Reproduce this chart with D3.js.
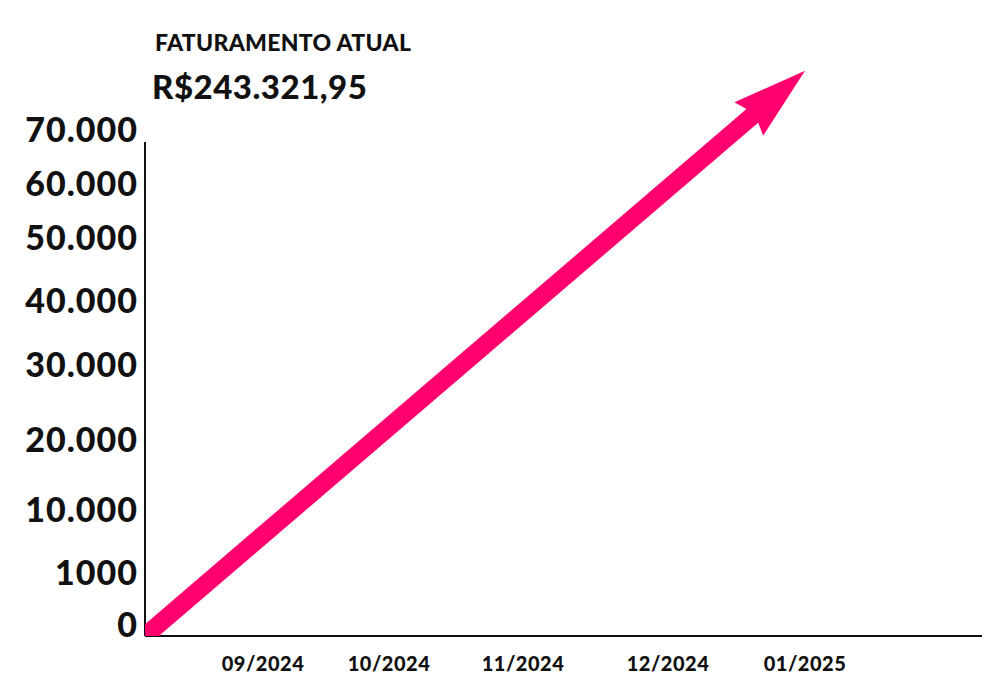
<!DOCTYPE html>
<html>
<head>
<meta charset="utf-8">
<title>Faturamento</title>
<style>
  body { margin: 0; background: #fff; }
  text { font-family: Lato, "Open Sans", sans-serif; font-weight: 900; fill: #111; }
</style>
</head>
<body>
<div id="chart"></div>
<script src="https://d3js.org/d3.v7.min.js"></script>
<script>
var width = 1000, height = 683;

// data
var months = ['', '09/2024', '10/2024', '11/2024', '12/2024', '01/2025', '', ''];
var yTicks = [0, 1000, 10000, 20000, 30000, 40000, 50000, 60000, 70000];
var yTickLabels = ['0', '1000', '10.000', '20.000', '30.000', '40.000', '50.000', '60.000', '70.000'];
var arrowMonths = ['', '01/2025'];
var arrowValues = [0, 83000];
var title = 'FATURAMENTO ATUAL';
var total = 'R$243.321,95';

var svg = d3.select('#chart').append('svg')
  .attr('width', width).attr('height', height);

// x: month positions are uneven in the original
var x = d3.scaleOrdinal()
  .domain(months.map(function(d, i){ return i; }))
  .range([145, 263, 389, 523, 668, 805, 930, 982]);

// y: piecewise, ticks were not evenly spaced
var y = d3.scaleLinear()
  .domain(yTicks)
  .range([636, 584, 521, 451, 376, 312, 249, 195, 141]);

var left = x(0), bottom = y(0);

// title
svg.append('text')
  .attr('x', 155).attr('y', 51)
  .attr('font-size', 23)
  .attr('letter-spacing', 0.3)
  .text(title);
svg.append('text')
  .attr('x', 152).attr('y', 99)
  .attr('font-size', 33)
  .attr('letter-spacing', 0.5)
  .text(total);

// axes lines
svg.append('line')
  .attr('x1', left).attr('x2', left)
  .attr('y1', 142).attr('y2', bottom)
  .attr('stroke', '#111').attr('stroke-width', 2);
svg.append('line')
  .attr('x1', left).attr('x2', x(months.length - 1))
  .attr('y1', bottom).attr('y2', bottom)
  .attr('stroke', '#111').attr('stroke-width', 2);

// y labels
svg.selectAll('.ylab')
  .data(yTicks)
  .enter()
  .append('text')
  .attr('class', 'ylab')
  .attr('x', 138)
  .attr('y', function(d){ return y(d) + 1; })
  .attr('text-anchor', 'end')
  .attr('font-size', 34)
  .attr('letter-spacing', 1)
  .text(function(d, i){ return yTickLabels[i]; });

// x labels
svg.selectAll('.xlab')
  .data(months.map(function(d, i){ return i; }).filter(function(i){ return months[i] !== ''; }))
  .enter()
  .append('text')
  .attr('class', 'xlab')
  .attr('x', function(i){ return x(i); })
  .attr('y', 671)
  .attr('text-anchor', 'middle')
  .attr('font-size', 20)
  .attr('letter-spacing', 0.5)
  .text(function(i){ return months[i]; });

// arrow
var pink = '#ff006e';
var x0 = x(months.indexOf(arrowMonths[0])), y0 = y(arrowValues[0]);
var x1 = x(months.indexOf(arrowMonths[1])), y1 = y(arrowValues[1]);
var dx = x1 - x0, dy = y1 - y0, len = Math.sqrt(dx*dx + dy*dy);
var ux = dx/len, uy = dy/len, nx = -uy, ny = ux;
var headLen = 74, headHalf = 22, notch = 8;
var bx = x1 - ux*headLen, by = y1 - uy*headLen;
var ix = bx + ux*notch, iy = by + uy*notch;

svg.append('clipPath').attr('id', 'plot')
  .append('rect').attr('x', left).attr('y', 0)
  .attr('width', width - left).attr('height', bottom);

var g = svg.append('g').attr('clip-path', 'url(#plot)');

g.append('line')
  .attr('x1', x0 - ux*20).attr('y1', y0 - uy*20)
  .attr('x2', ix + ux*2).attr('y2', iy + uy*2)
  .attr('stroke', pink).attr('stroke-width', 18);

g.append('path')
  .attr('d', d3.line()([
    [x1, y1],
    [bx + nx*headHalf, by + ny*headHalf],
    [ix, iy],
    [bx - nx*headHalf, by - ny*headHalf]
  ]) + 'Z')
  .attr('fill', pink);
</script>
</body>
</html>
